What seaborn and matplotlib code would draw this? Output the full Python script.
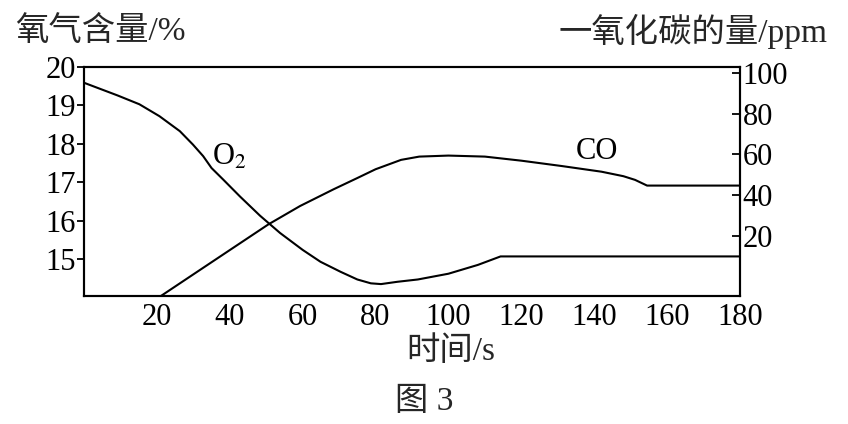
import matplotlib
matplotlib.use('Agg')
import matplotlib.pyplot as plt
import seaborn as sns

# O2 content (left axis, %)
o2_time = [0, 9.2, 15.2, 20.7, 26.3, 29.9, 32.7, 35, 38.2, 42.8, 48.3, 53.8, 60, 64.9, 70.4, 75, 78.7, 81.5,
           86, 91.6, 100, 108.1, 114.3, 180]
o2_vals = [19.59, 19.26, 19.03, 18.72, 18.33, 17.98, 17.68, 17.37, 17.07, 16.63, 16.13, 15.68, 15.24, 14.93,
           14.67, 14.47, 14.37, 14.35, 14.41, 14.47, 14.62, 14.85, 15.07, 15.07]

# CO amount (right axis, ppm)
co_time = [21.1, 30, 40, 50.6, 59.3, 68.5, 75, 80, 87, 92, 100, 110, 120, 131, 142, 148, 151.2, 154.5, 180]
co_vals = [-9.4, 1.2, 13.1, 25.7, 34.7, 42.9, 48.4, 52.7, 57.3, 58.9, 59.4, 58.9, 56.9, 54.3, 51.5, 49.3, 47.5,
           44.7, 44.7]

x_ticks = [20, 40, 60, 80, 100, 120, 140, 160, 180]
left_ticks = [15, 16, 17, 18, 19, 20]
right_ticks = [20, 40, 60, 80, 100]

sns.set_theme(style='white')
plt.rcParams['font.family'] = ['Liberation Serif', 'Noto Sans CJK SC']
plt.rcParams['mathtext.fontset'] = 'stix'
FS = 22
FS_CN = 24
W, H = 848, 424

fig = plt.figure(figsize=(W / 100, H / 100), dpi=100)
ax = fig.add_axes([84 / W, 1 - 296 / H, (740 - 84) / W, (296 - 67) / H])
ax2 = ax.twinx()

sns.lineplot(x=o2_time, y=o2_vals, ax=ax, color='black', linewidth=1.5, sort=False)
sns.lineplot(x=co_time, y=co_vals, ax=ax2, color='black', linewidth=1.5, sort=False)

ax.set_xlim(0, 180)
ax.set_ylim(14.04, 20.0)
ax2.set_ylim(-9.4, 102.8)

ax.set_xticks(x_ticks)
ax.set_yticks(left_ticks)
ax2.set_yticks(right_ticks)
ax.set_xticklabels([str(v) for v in x_ticks])
ax.set_yticklabels([str(v) for v in left_ticks])
ax2.set_yticklabels([str(v) for v in right_ticks])

ax.tick_params(axis='x', direction='in', length=5, width=1.3, pad=5, labelsize=FS, colors='black')
ax.tick_params(axis='y', direction='out', length=5, width=1.3, pad=1, labelsize=FS, colors='black')
ax2.tick_params(axis='y', direction='in', length=6, width=1.3, pad=2, labelsize=FS, colors='black')

for a in (ax, ax2):
    for s in a.spines.values():
        s.set_visible(True)
        s.set_color('black')
        s.set_linewidth(1.5)
    a.set_xlabel('')
    a.set_ylabel('')
    a.grid(False)

# curve labels
ax.text(40, 17.65, 'O$_2$', fontsize=FS, ha='center', va='center', color='black')
ax.text(140.7, 17.8, 'CO', fontsize=FS, ha='center', va='center', color='black')

# axis titles and caption
fig.text(15 / W, 1 - 31 / H, '氧气含量/%', fontsize=FS_CN, ha='left', va='center')
fig.text(828 / W, 1 - 31 / H, '一氧化碳的量/ppm', fontsize=FS_CN, ha='right', va='center')
fig.text(451 / W, 1 - 352 / H, '时间/s', fontsize=FS_CN, ha='center', va='center')
fig.text(424 / W, 1 - 402 / H, '图 3', fontsize=FS_CN, ha='center', va='center')

fig.savefig('out.png', dpi=100, facecolor='white')
